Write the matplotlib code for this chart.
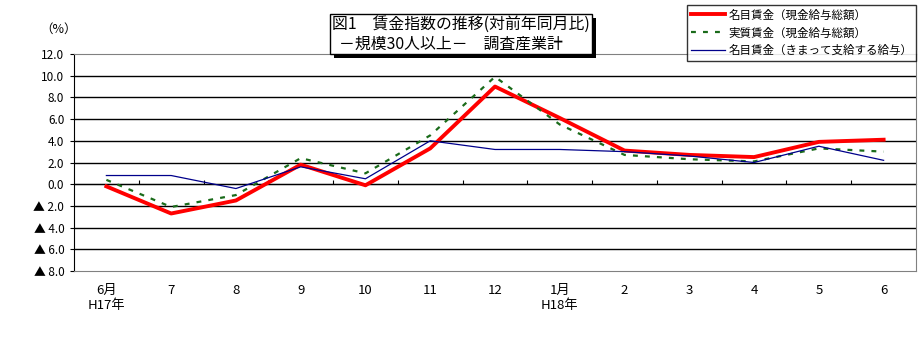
import matplotlib
matplotlib.use("Agg")
import matplotlib.pyplot as plt
import matplotlib.patheffects as pe

plt.rcParams['font.family'] = ['Noto Sans CJK JP', 'DejaVu Sans']

# months (H17.6 - H18.6)
months = ["6月\nH17年", "7", "8", "9", "10", "11", "12",
          "1月\nH18年", "2", "3", "4", "5", "6"]

# year-on-year change (%)
nominal_total = [-0.2, -2.7, -1.5, 1.8, -0.1, 3.3, 9.0, 6.1, 3.1, 2.7, 2.5, 3.9, 4.1]
real_total = [0.4, -2.1, -1.0, 2.4, 1.0, 4.5, 9.9, 5.5, 2.7, 2.3, 2.1, 3.3, 3.0]
nominal_regular = [0.8, 0.8, -0.4, 1.6, 0.5, 4.0, 3.2, 3.2, 3.0, 2.6, 2.0, 3.5, 2.2]

series_labels = ["名目賃金（現金給与総額）", "実質賃金（現金給与総額）",
                 "名目賃金（きまって支給する給与）"]

y_ticks = [12, 10, 8, 6, 4, 2, 0, -2, -4, -6, -8]
y_labels = ["12.0", "10.0", "8.0", "6.0", "4.0", "2.0", "0.0",
            "▲ 2.0", "▲ 4.0", "▲ 6.0", "▲ 8.0"]

fig = plt.figure(figsize=(9.23, 3.51), dpi=100)
ax = fig.add_axes([74 / 923, 1 - 271 / 351, (916 - 74) / 923, (271 - 54) / 351])

x = list(range(len(months)))

# gridlines
for v in y_ticks[1:-1]:
    ax.axhline(v, color='black', lw=1.0, zorder=1)

ax.plot(x, nominal_total, color='#ff0000', lw=2.8, zorder=3, label=series_labels[0])
ax.plot(x, real_total, color='#1a6b1a', lw=1.6, ls=(0, (2.2, 3.2)), zorder=4,
        label=series_labels[1])
ax.plot(x, nominal_regular, color='#00008b', lw=0.9, zorder=5, label=series_labels[2])

ax.set_xlim(-0.5, len(months) - 0.5)
ax.set_ylim(-8, 12)
ax.set_yticks(y_ticks)
ax.set_yticklabels(y_labels, fontsize=8.5)
ax.set_xticks(x)
ax.set_xticklabels(months, fontsize=9.5, linespacing=1.2)
ax.tick_params(axis='x', length=0, pad=9)
ax.tick_params(axis='y', length=3, width=0.8, pad=4)

for s in ['top', 'right', 'bottom']:
    ax.spines[s].set_color('#808080')
ax.spines['left'].set_color('black')

# category axis crossing at zero, with small ticks between months
sec = ax.secondary_xaxis(8 / 20)
sec.set_xticks([i + 0.5 for i in range(len(months) - 1)])
sec.set_xticklabels([])
sec.tick_params(direction='in', length=3, width=0.8, color='black')
sec.spines['bottom'].set_color('black')

fig.text(40 / 923, 1 - 29 / 351, "（%）", fontsize=9, va='center', ha='left')

# title box with shadow
t = fig.text(332 / 923, 1 - 34 / 351,
             "図1　賃金指数の推移(対前年同月比)\n  －規模30人以上－　調査産業計",
             fontsize=11.4, va='center', ha='left', linespacing=1.2,
             bbox=dict(boxstyle='square,pad=0.12', fc='white', ec='black', lw=1.0))
t.get_bbox_patch().set_path_effects([
    pe.SimplePatchShadow(offset=(3, -3), shadow_rgbFace='black', alpha=1.0),
    pe.Normal()])

leg = fig.legend(loc='upper right', bbox_to_anchor=(916 / 923, 1 - 5 / 351),
                 fontsize=8.3, frameon=True, fancybox=False, edgecolor='black',
                 handlelength=3.0, handletextpad=0.3, borderpad=0.3,
                 labelspacing=0.42, borderaxespad=0)
leg.get_frame().set_linewidth(1.0)

fig.savefig("out.png", dpi=100)
